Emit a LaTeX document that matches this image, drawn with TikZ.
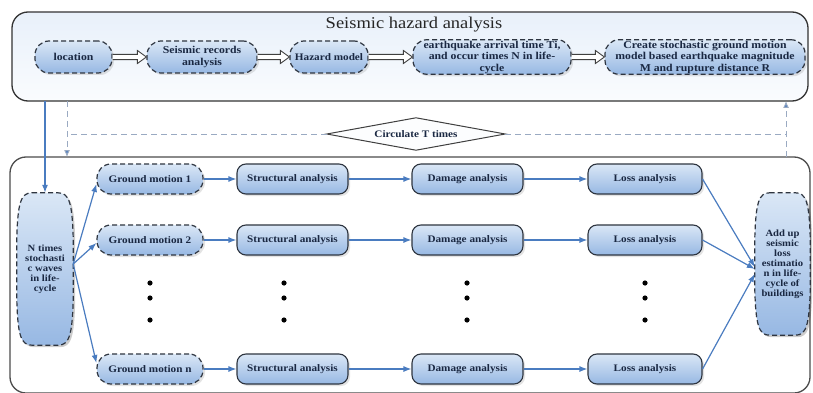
\documentclass[tikz,border=0pt]{standalone}
\usepackage{fontspec}
\setmainfont{Liberation Serif}[FakeStretch=1.12]
\usetikzlibrary{arrows.meta,shadows,calc}
\pgfdeclarelayer{back}
\pgfdeclarelayer{mid}
\pgfsetlayers{back,mid,main}
\definecolor{txt}{HTML}{1A2842}
\definecolor{arr}{HTML}{4A7CC0}
\definecolor{ntop}{HTML}{DAE7F6}
\definecolor{nbot}{HTML}{97B8E3}
\definecolor{bord}{HTML}{2E3540}
\definecolor{loopc}{HTML}{9AAAC2}
\definecolor{ptop}{HTML}{E8F0FA}
\definecolor{pbot}{HTML}{FAFCFE}
\newcommand{\myftop}{\fontsize{10.5}{11.5}\selectfont\bfseries}
\newcommand{\myfbot}{\fontsize{10}{11}\selectfont\bfseries}
\newcommand{\myfsmall}{\fontsize{9.5}{10}\selectfont\bfseries}
\begin{document}
\begin{tikzpicture}[x=1pt,y=-1pt,
  panel/.style={draw=black!80, line width=1.3pt, rounded corners=16pt, inner sep=0pt, outer sep=0pt},
  pill/.style={draw=bord, dash pattern=on 5pt off 3pt, line width=1.2pt, rounded corners=14pt,
    top color=ntop, bottom color=nbot, text=txt, align=center, inner sep=1pt, minimum height=32pt,
    drop shadow={opacity=0.22, shadow xshift=2pt, shadow yshift=-2pt}},
  gmpill/.style={pill, minimum height=30pt, minimum width=106pt, font=\myfbot},
  box/.style={draw=bord, line width=1.1pt, rounded corners=9pt,
    top color=ntop, bottom color=nbot, text=txt, align=center, inner sep=1pt,
    minimum height=30pt, font=\myfbot,
    drop shadow={opacity=0.22, shadow xshift=2pt, shadow yshift=-2pt}},
  blockarr/.style={draw=black!75, line width=0.9pt, fill=white, line join=miter,
    to path={($(\tikztostart)+(0,-2.6)$) -- ($(\tikztotarget)+(-9,-2.6)$) -- ($(\tikztotarget)+(-9,-6.5)$)
      -- (\tikztotarget) -- ($(\tikztotarget)+(-9,6.5)$) -- ($(\tikztotarget)+(-9,2.6)$)
      -- ($(\tikztostart)+(0,2.6)$)}},
  arrowline/.style={draw=arr, line width=1.2pt, -{Latex[length=8pt,width=6pt]}},
  loopv/.style={draw=loopc, line width=1pt, dash pattern=on 6pt off 4pt},
  barrel/.style={insert path={
    ($(#1.north)+(-13,0)$) -- ($(#1.north)+(13,0)$)
    .. controls ($(#1.north east)+(-4,0)$) and ($(#1.north east)+(-1,10)$) .. ($(#1.north east)+(0,45)$)
    -- ($(#1.south east)+(0,-45)$)
    .. controls ($(#1.south east)+(-1,-10)$) and ($(#1.south east)+(-4,0)$) .. ($(#1.south)+(13,0)$)
    -- ($(#1.south)+(-13,0)$)
    .. controls ($(#1.south west)+(4,0)$) and ($(#1.south west)+(1,-10)$) .. ($(#1.south west)+(0,-45)$)
    -- ($(#1.north west)+(0,45)$)
    .. controls ($(#1.north west)+(1,10)$) and ($(#1.north west)+(4,0)$) .. ($(#1.north)+(-13,0)$) -- cycle}},
  barrelstyle/.style={draw=bord, dash pattern=on 5pt off 3pt, line width=1.2pt,
    top color=ntop, bottom color=nbot,
    preaction={fill=black, opacity=0.2, transform canvas={xshift=2pt, yshift=-2pt}}}
]
\useasboundingbox (0,0) rectangle (813,393);

% panels
\begin{pgfonlayer}{back}
\node[panel, top color=ptop, bottom color=pbot, minimum width=796pt, minimum height=89pt] (toppanel) at (410,56.5) {};
\node[panel, fill=white, draw=black!70, minimum width=800pt, minimum height=236pt] (botpanel) at (410,275) {};
\end{pgfonlayer}

% title
\node[font=\fontsize{16.5}{18}\selectfont, text=black!85] (title) at (414,25) {Seismic hazard analysis};

% top row
\node[pill, font=\myftop, minimum width=77pt] (loc) at (73.5,57) {location};
\node[pill, font=\myftop, minimum width=110pt] (rec) at (202,57) {Seismic records\\analysis};
\node[pill, font=\myfbot, minimum width=78pt] (haz) at (329,57) {Hazard model};
\node[pill, font=\myftop, minimum width=158pt] (eq) at (492,57) {earthquake arrival time Ti,\\and occur times N in life-\\cycle};
\node[pill, font=\myftop, minimum width=200pt] (sgm) at (705,57) {Create stochastic ground motion\\model based earthquake magnitude\\M and rupture distance R};

\draw[blockarr] (loc.east) to (rec.west);
\draw[blockarr] (rec.east) to (haz.west);
\draw[blockarr] (haz.east) to (eq.west);
\draw[blockarr] (eq.east) to (sgm.west);

% circulate
\node[font=\myfbot, text=txt, minimum width=178pt, minimum height=32pt, inner sep=0pt] (circ) at (416,134) {Circulate T times};
\begin{pgfonlayer}{mid}
\draw[draw=black!75, line width=1pt, fill=white!92!ntop] (circ.west) -- (circ.north) -- (circ.east) -- (circ.south) -- cycle;
\end{pgfonlayer}
\coordinate (lx) at (67,0);
\coordinate (rx) at (786,0);
\draw[loopv, -{Latex[length=7pt,width=6pt,fill=arr]}] (toppanel.south -| lx) -- (botpanel.north -| lx);
\draw[loopv] (circ.west) -- (circ.west -| lx);
\draw[loopv, -{Latex[length=7pt,width=6pt,fill=arr]}] (botpanel.north -| rx) -- (toppanel.south -| rx);
\draw[loopv] (circ.east) -- (circ.east -| rx);

% N times node and Add up node
\node[text=txt, font=\myfsmall, align=center, minimum width=56pt, minimum height=152pt, inner sep=0pt] (nt) at (45,269) {N times\\stochasti\\c waves\\in life-\\cycle};
\node[text=txt, font=\myfsmall, align=center, minimum width=55pt, minimum height=142pt, inner sep=0pt] (au) at (782.5,264) {Add up\\seismic\\loss\\estimatio\\n in life-\\cycle of\\buildings};
\begin{pgfonlayer}{mid}
\path[barrelstyle, barrel=nt];
\path[barrelstyle, barrel=au];
\end{pgfonlayer}
\draw[arrowline] (toppanel.south -| nt.north) -- (nt.north);

% rows
\node[gmpill] (gm1) at (150,179) {Ground motion 1};
\node[box, minimum width=111pt] (st1) at (292.5,179) {Structural analysis};
\node[box, minimum width=111pt] (da1) at (467.5,179) {Damage analysis};
\node[box, minimum width=114pt] (lo1) at (645,179) {Loss analysis};

\node[gmpill] (gm2) at (150,240) {Ground motion 2};
\node[box, minimum width=111pt] (st2) at (292.5,240) {Structural analysis};
\node[box, minimum width=111pt] (da2) at (467.5,240) {Damage analysis};
\node[box, minimum width=114pt] (lo2) at (645,240) {Loss analysis};

\node[gmpill] (gmn) at (150,369) {Ground motion n};
\node[box, minimum width=111pt] (stn) at (292.5,369) {Structural analysis};
\node[box, minimum width=111pt] (dan) at (467.5,369) {Damage analysis};
\node[box, minimum width=114pt] (lon) at (645,369) {Loss analysis};

\foreach \r in {1,2,n}{
  \draw[arrowline] (gm\r) -- (st\r);
  \draw[arrowline] (st\r) -- (da\r);
  \draw[arrowline] (da\r) -- (lo\r);
}

\draw[arrowline] ($(nt.east)+(0,-5)$) -- ($(gm1.west)+(0,5)$);
\draw[arrowline] ($(nt.east)+(0,-5)$) -- ($(gm2.west)+(0,3)$);
\draw[arrowline] ($(nt.east)+(0,-5)$) -- ($(gmn.west)+(0,-6)$);

\draw[arrowline] (lo1.east) -- ($(au.west)+(0,3)$);
\draw[arrowline] (lo2.east) -- ($(au.west)+(0,5)$);
\draw[arrowline] (lon.east) -- ($(au.west)+(0,10)$);

% dots
\foreach \x in {150,284,467,645}{
  \foreach \y in {283,298,320}{
    \fill[black] (\x,\y) circle (2.6pt);
  }
}
\end{tikzpicture}
\end{document}
